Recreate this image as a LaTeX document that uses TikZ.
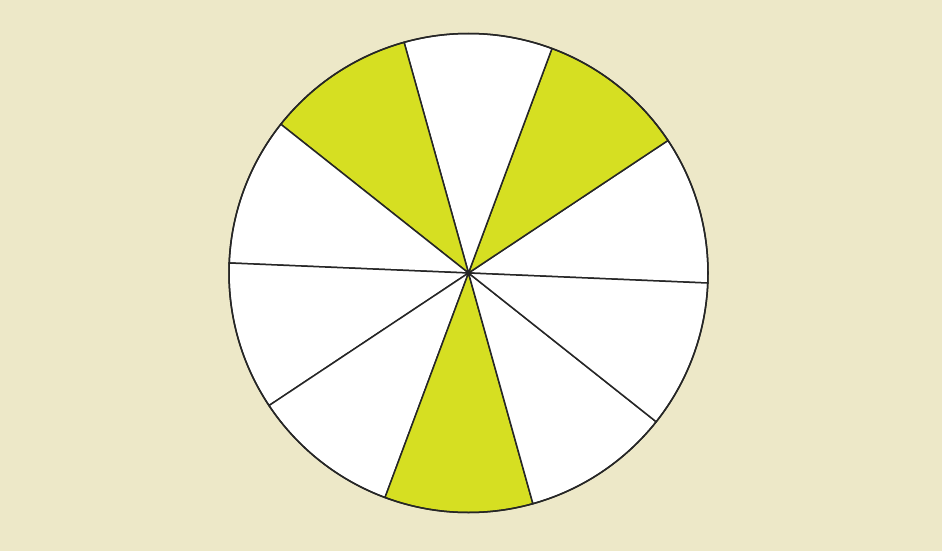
\documentclass[tikz,border=0pt]{standalone}
\definecolor{bg}{RGB}{237,232,200}
\definecolor{lime}{RGB}{214,223,34}
\begin{document}
\begin{tikzpicture}[x=1pt,y=-1pt,
  sector/.style={draw=black!85,line width=1.5pt,line join=round},
  rim/.style={draw=black!85,line width=1.5pt}]
\fill[bg] (0,0) rectangle (942,551);
\useasboundingbox (0,0) rectangle (942,551);
\coordinate (c) at (468.5,273);
\def\R{239.5}
\foreach \k in {0,...,9}{
  \pgfmathsetmacro{\a}{-2.4+36*\k}
  \pgfmathsetmacro{\b}{\a+36}
  \pgfmathtruncatemacro{\isy}{(\k==1)||(\k==3)||(\k==7)}
  \ifnum\isy=1 \def\fc{lime}\else\def\fc{white}\fi
  \filldraw[sector,fill=\fc] (c) -- ++({\a}:{\R} and {-\R}) arc[start angle=-\a,end angle=-\b,radius=\R] -- cycle;
}
\draw[rim] (c) circle[radius=\R];
\end{tikzpicture}
\end{document}
